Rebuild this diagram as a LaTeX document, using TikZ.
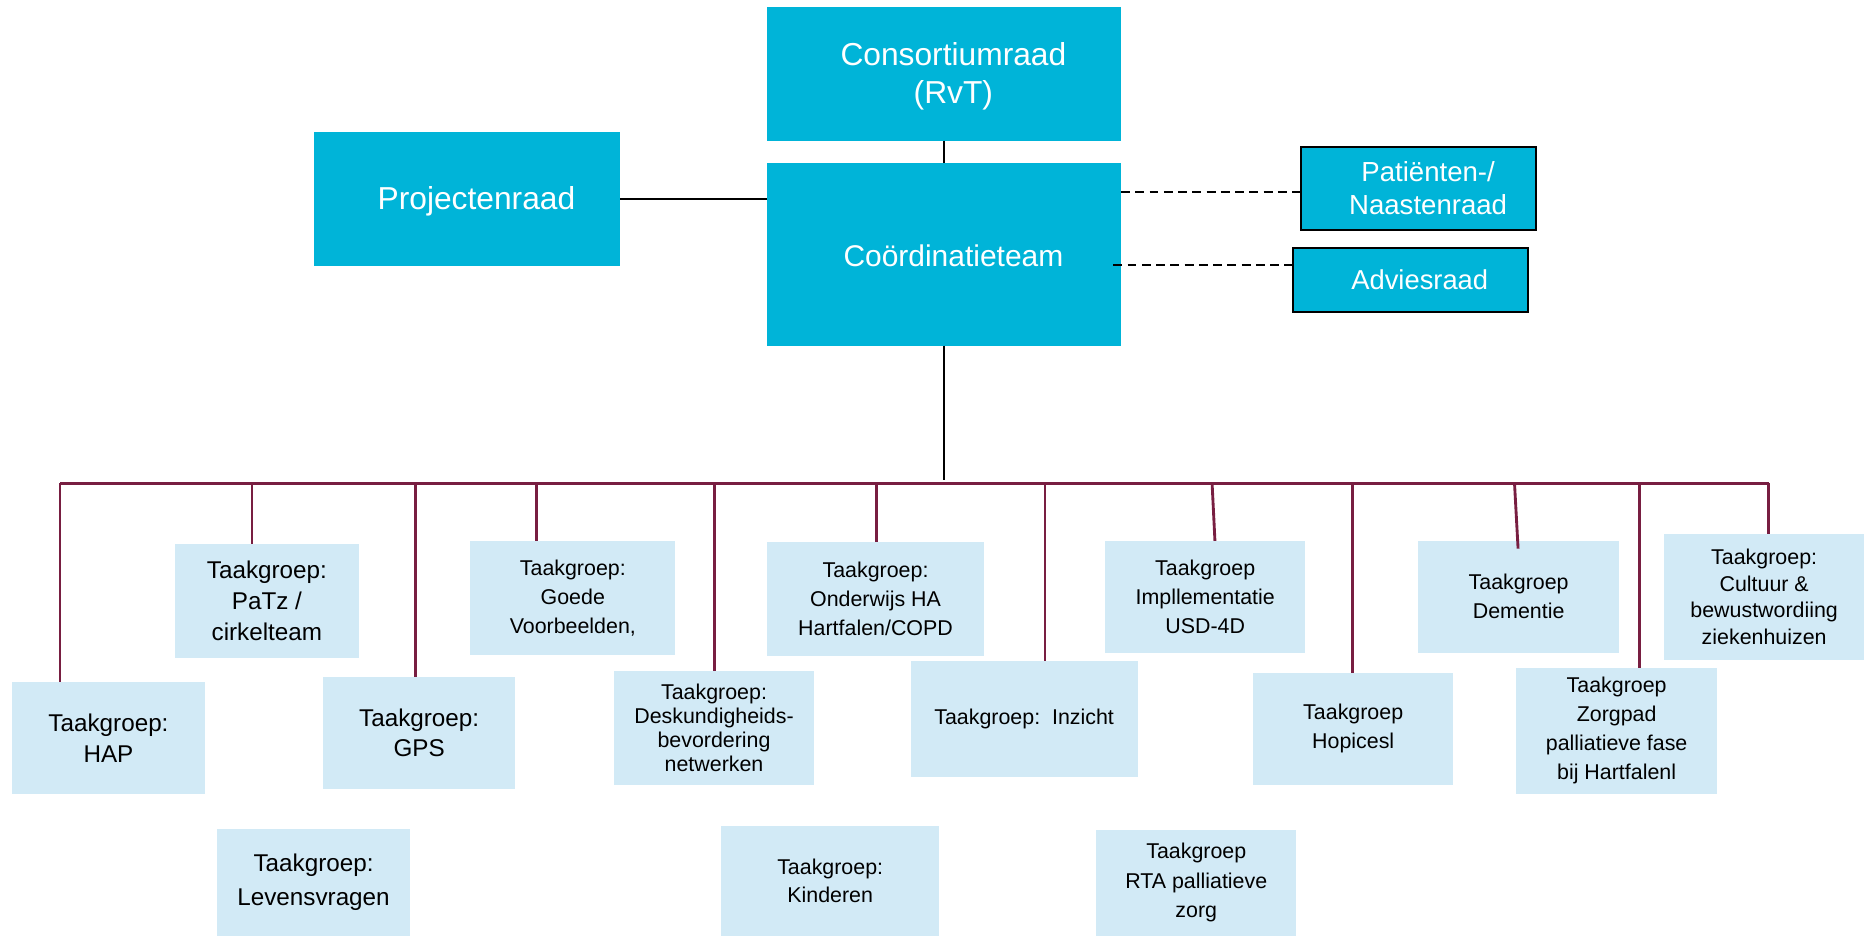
\documentclass[tikz,border=0pt]{standalone}
\usepackage{fontspec}
\setmainfont{Liberation Sans}
\definecolor{cyanbox}{RGB}{0,180,216}
\definecolor{lightbox}{RGB}{210,234,246}
\definecolor{maroon}{RGB}{120,30,65}
\tikzset{
  topbox/.style={fill=cyanbox, inner sep=0pt, outer sep=0pt},
  sidebox/.style={fill=cyanbox, draw=black, line width=1.8pt, inner sep=0pt, outer sep=0pt},
  toptext/.style={text=white, align=center, inner sep=0pt},
  tgbox/.style={fill=lightbox, inner sep=0pt, outer sep=0pt, align=center, text=black},
  fbig/.style={font=\fontsize{20.4}{26}\selectfont},
  fsmall/.style={font=\fontsize{18}{24.4}\selectfont},
  link/.style={draw=black, line width=1.5pt},
  dashlink/.style={draw=black, line width=1.7pt, dash pattern=on 7.5pt off 4.5pt},
  busline/.style={draw=maroon, line width=2.4pt},
}
\begin{document}
\begin{tikzpicture}[x=1pt, y=-1pt]
\useasboundingbox (0,0) rectangle (1568,787.4);

% top level boxes
\node[topbox, minimum width=298pt, minimum height=112.7pt] (cons) at (794,62) {};
\node[toptext, font=\fontsize{26.7}{32}\selectfont] (conslbl) at ([xshift=8pt, yshift=-2.5pt]cons.center) {Consortiumraad\\(RvT)};

\node[topbox, minimum width=257.6pt, minimum height=112.5pt] (proj) at (392.8,167.25) {};
\node[toptext, font=\fontsize{26.7}{32}\selectfont] (projlbl) at ([xshift=8pt, yshift=-2pt]proj.center) {Projectenraad};

\node[topbox, minimum width=298pt, minimum height=153.8pt] (coord) at (794,213.9) {};
\node[toptext, font=\fontsize{25.2}{32}\selectfont] (coordlbl) at ([xshift=8pt, yshift=-1.5pt]coord.center) {Coördinatieteam};

\node[sidebox, minimum width=197.4pt, minimum height=70.1pt] (pat) at (1193.3,158.45) {};
\node[toptext, font=\fontsize{23.2}{28}\selectfont] (patlbl) at ([xshift=8pt]pat.center) {Patiënten-/\\Naastenraad};

\node[sidebox, minimum width=197.4pt, minimum height=53.6pt] (adv) at (1186.3,235.4) {};
\node[toptext, font=\fontsize{23}{28}\selectfont] (advlbl) at ([xshift=8pt]adv.center) {Adviesraad};

% taakgroep boxes
\node[tgbox, fbig, minimum width=162.5pt, minimum height=93.6pt] (hap) at (91.25,620.8) {Taakgroep:\\HAP};
\node[tgbox, fbig, minimum width=155pt, minimum height=95.6pt] (patz) at (224.5,505.4) {Taakgroep:\\PaTz /\\cirkelteam};
\node[tgbox, fbig, minimum width=162pt, minimum height=93.9pt] (gps) at (352.6,616.45) {Taakgroep:\\GPS};
\node[tgbox, fsmall, minimum width=172.5pt, minimum height=95.7pt] (goede) at (481.85,502.85) {Taakgroep:\\Goede\\Voorbeelden,};
\node[tgbox, font=\fontsize{18}{20.2}\selectfont, minimum width=168.1pt, minimum height=95.6pt] (desk) at (600.65,612.2) {Taakgroep:\\Deskundigheids-\\bevordering\\netwerken};
\node[tgbox, fsmall, minimum width=183pt, minimum height=95.6pt] (onder) at (736.5,503.7) {Taakgroep:\\Onderwijs HA\\Hartfalen/COPD};
\node[tgbox, fsmall, minimum width=191pt, minimum height=98pt] (inz) at (861.5,605) {Taakgroep:\ \ Inzicht};
\node[tgbox, fsmall, minimum width=168.6pt, minimum height=94pt] (impl) at (1013.8,502) {Taakgroep\\Impllementatie\\USD-4D};
\node[tgbox, fsmall, minimum width=168.6pt, minimum height=94pt] (hop) at (1138.3,613) {Taakgroep\\Hopicesl};
\node[tgbox, fsmall, minimum width=169pt, minimum height=94pt] (dem) at (1277.5,502) {Taakgroep\\Dementie};
\node[tgbox, fsmall, minimum width=168.6pt, minimum height=105.6pt] (zorg) at (1359.9,614.8) {Taakgroep\\Zorgpad\\palliatieve fase\\bij Hartfalenl};
\node[tgbox, font=\fontsize{18}{22.4}\selectfont, minimum width=168pt, minimum height=105.8pt] (cult) at (1484,502.1) {Taakgroep:\\Cultuur \&\\bewustwordiing\\ziekenhuizen};
\node[tgbox, font=\fontsize{20.4}{28}\selectfont, minimum width=162.5pt, minimum height=89.6pt] (lev) at (263.75,742.2) {Taakgroep:\\Levensvragen};
\node[tgbox, font=\fontsize{18}{23.8}\selectfont, minimum width=183.3pt, minimum height=92.2pt] (kind) at (698.35,740.9) {Taakgroep:\\Kinderen};
\node[tgbox, font=\fontsize{18}{24.8}\selectfont, minimum width=168.6pt, minimum height=89pt] (rta) at (1006.3,742.5) {Taakgroep\\RTA palliatieve\\zorg};

% top connectors
\draw[link] (cons.south) -- (coord.north);
\draw[link] (proj.east) -- (proj.east -| coord.west);
\draw[dashlink] ([yshift=-2.75pt]pat.west -| coord.east) -- ([yshift=-2.75pt]pat.west);
\draw[dashlink] ([yshift=12.2pt]adv.west -| coord.east) ++(-6.5,0) -- ([yshift=12.2pt]adv.west);
\coordinate (busjoin) at (794,403.5);
\draw[link] (coord.south) -- (busjoin);

% bus
\coordinate (bl) at (50.5,406.5);
\coordinate (br) at (1487.7,406.5);
\draw[busline] (bl) -- (br);
\coordinate (b1) at (50.5,406.5);
\coordinate (b2) at (212,406.5);
\coordinate (b3) at (349.6,406.5);
\coordinate (b4) at (451.6,406.5);
\coordinate (b5) at (601,406.5);
\coordinate (b6) at (737.2,406.5);
\coordinate (b7) at (879,406.5);
\coordinate (b8) at (1019.6,406.5);
\coordinate (b9) at (1138,406.5);
\coordinate (b10) at (1274,406.5);
\coordinate (b11) at (1379,406.5);
\coordinate (b12) at (1487.7,406.5);

\draw[busline] (b1) -- (b1 |- hap.north);
\draw[busline] (b2) -- (b2 |- patz.north);
\draw[busline] (b3) -- (b3 |- gps.north);
\draw[busline] (b4) -- (b4 |- goede.north);
\draw[busline] (b5) -- (b5 |- desk.north);
\draw[busline] (b6) -- (b6 |- onder.north);
\draw[busline] (b7) -- (b7 |- inz.north);
\draw[busline] (b8) -- ([xshift=2.4pt]b8 |- impl.north);
\draw[busline] (b9) -- (b9 |- hop.north);
\draw[busline] (b10) -- ([xshift=3pt, yshift=-6.5pt]b10 |- dem.north);
\draw[busline] (b11) -- (b11 |- zorg.north);
\draw[busline] (b12) -- (b12 |- cult.north);
\end{tikzpicture}
\end{document}
